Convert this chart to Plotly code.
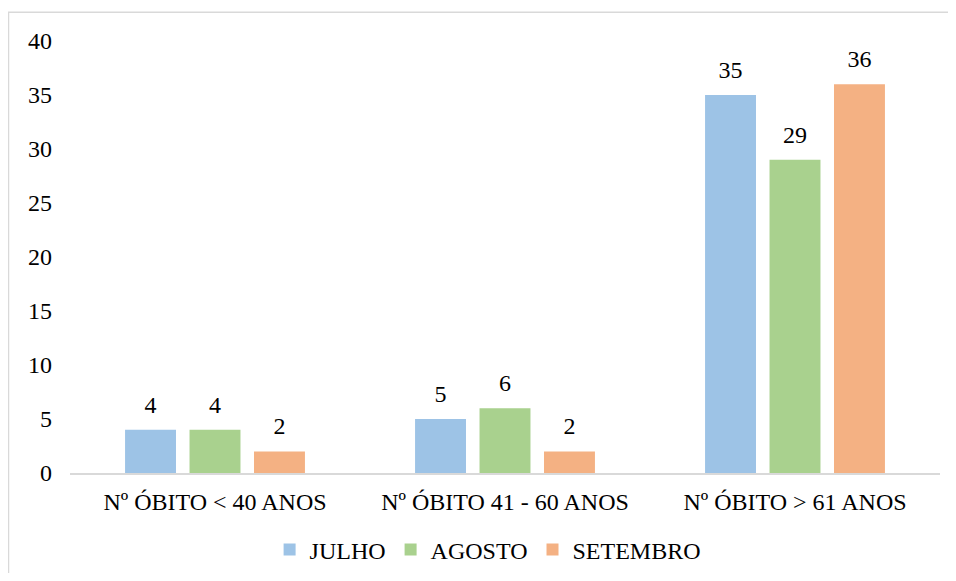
import plotly.graph_objects as go

categories = ["Nº ÓBITO < 40 ANOS", "Nº ÓBITO 41 - 60 ANOS", "Nº ÓBITO > 61 ANOS"]
julho = [4, 5, 35]
agosto = [4, 6, 29]
setembro = [2, 2, 36]
series_names = ["JULHO", "AGOSTO", "SETEMBRO"]
colors = ["#9DC3E6", "#A9D18E", "#F4B183"]
y_ticks = [0, 5, 10, 15, 20, 25, 30, 35, 40]

FONT = "Liberation Serif"
FS = 24
BARGAP = 0.333

fig = go.Figure()
for name, vals, col in zip(series_names, [julho, agosto, setembro], colors):
    fig.add_trace(go.Bar(
        name=name, x=categories, y=vals,
        marker=dict(color=col, line=dict(width=0)),
        offsetgroup=name,
    ))
for name, vals in zip(series_names, [julho, agosto, setembro]):
    fig.add_trace(go.Scatter(
        name=name + " labels", x=categories, y=vals,
        mode="markers+text", text=[str(v) for v in vals],
        textposition="top center",
        marker=dict(size=16, opacity=0),
        textfont=dict(family=FONT, size=FS, color="#000000"),
        showlegend=False, hoverinfo="skip", cliponaxis=False,
        offsetgroup=name,
    ))

fig.update_layout(
    width=940, height=565,
    margin=dict(l=62, r=8, t=33, b=100, autoexpand=False),
    paper_bgcolor="white", plot_bgcolor="white",
    font=dict(family=FONT, size=FS, color="#000000"),
    barmode="group", bargap=BARGAP, bargroupgap=0.21,
    scattermode="group", scattergap=BARGAP,
    showlegend=True,
    legend=dict(orientation="h", x=0.48, xanchor="center",
                yref="container", y=0.041, yanchor="middle",
                font=dict(family=FONT, size=FS), itemwidth=30, traceorder="normal"),
    shapes=[dict(type="rect", xref="paper", yref="paper",
                 x0=-0.0707, y0=-0.5, x1=1.2, y1=1.0665,
                 line=dict(color="#D9D9D9", width=1.5), layer="below")],
)
fig.update_xaxes(showline=True, linecolor="#D9D9D9", linewidth=2, showgrid=False,
                 ticks="", ticklabelstandoff=6,
                 tickfont=dict(family=FONT, size=FS), zeroline=False)
fig.update_yaxes(range=[0, 40], tickvals=y_ticks, showgrid=False, zeroline=False,
                 showline=False, ticks="", ticklabelstandoff=17,
                 tickfont=dict(family=FONT, size=FS))

fig.write_html("out.html")
